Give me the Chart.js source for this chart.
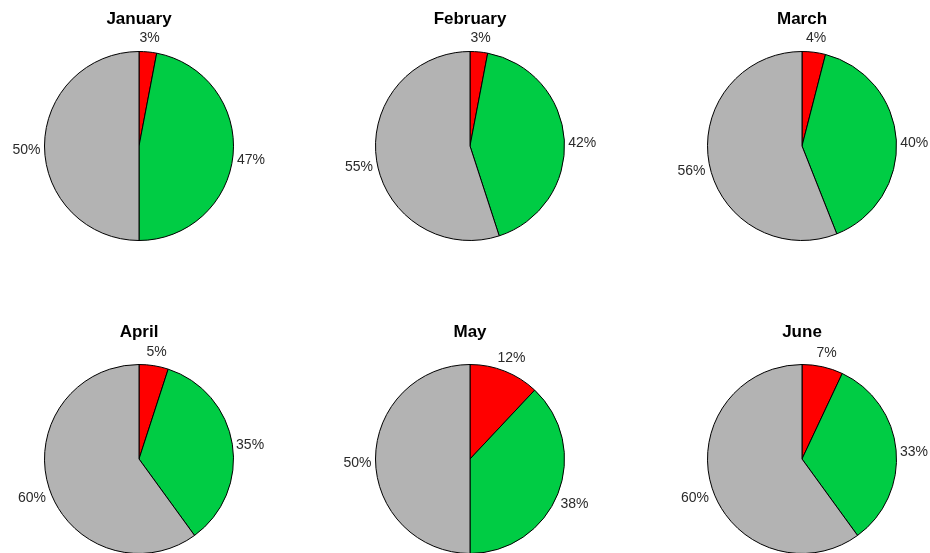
<!DOCTYPE html>
<html>
<head>
<meta charset="utf-8">
<script src="https://cdn.jsdelivr.net/npm/chart.js@4/dist/chart.umd.min.js"></script>
<style>
html,body{margin:0;padding:0;background:#fff;overflow:hidden;width:930px;height:553px;}
.cell{position:absolute;}
</style>
</head>
<body>
<script>
const months = ['January','February','March','April','May','June'];
const sliceNames = ['Part 1','Part 2','Part 3'];
const redValues   = [3, 3, 4, 5, 12, 7];
const greenValues = [47, 42, 40, 35, 38, 33];
const grayValues  = [50, 55, 56, 60, 50, 60];
const sliceColors = ['#ff0000', '#00cc44', '#b3b3b3'];

const centersX = [138.5, 470, 802];
const centersY = [146, 459];
const W = 310, H = 292, R = 95;

const labelPlugin = {
  id: 'pieText',
  afterDatasetsDraw(chart, args, opts) {
    const ctx = chart.ctx;
    const meta = chart.getDatasetMeta(0);
    const data = chart.data.datasets[0].data;
    const total = data.reduce((a, b) => a + b, 0);
    ctx.save();
    ctx.fillStyle = '#2a2a2a';
    ctx.font = '14px "Liberation Sans", Arial, sans-serif';
    ctx.textAlign = 'center';
    ctx.textBaseline = 'middle';
    meta.data.forEach((arc, i) => {
      const mid = (arc.startAngle + arc.endAngle) / 2;
      const rr = arc.outerRadius * 1.19;
      const x = arc.x + Math.cos(mid) * rr;
      const y = arc.y + Math.sin(mid) * rr + 4;
      ctx.fillText(Math.round(data[i] / total * 100) + '%', x, y);
    });
    // title
    const a0 = meta.data[0];
    ctx.fillStyle = '#000';
    ctx.font = 'bold 17px "Liberation Sans", Arial, sans-serif';
    ctx.fillText(opts.title, a0.x, a0.y - 127);
    ctx.restore();
  }
};

months.forEach((m, k) => {
  const col = k % 3, row = Math.floor(k / 3);
  const cx = centersX[col], cy = centersY[row];
  const div = document.createElement('div');
  div.className = 'cell';
  div.style.left = (cx - W / 2) + 'px';
  div.style.top = (cy - H / 2) + 'px';
  div.style.width = W + 'px';
  div.style.height = H + 'px';
  const cv = document.createElement('canvas');
  cv.width = W; cv.height = H;
  cv.style.width = W + 'px'; cv.style.height = H + 'px';
  div.appendChild(cv);
  document.body.appendChild(div);
  const padX = (W - 2 * R) / 2, padY = (H - 2 * R) / 2;
  new Chart(cv, {
    type: 'pie',
    data: {
      labels: sliceNames,
      datasets: [{
        data: [redValues[k], greenValues[k], grayValues[k]],
        backgroundColor: sliceColors,
        borderColor: '#000',
        borderWidth: 1,
        borderAlign: 'center'
      }]
    },
    options: {
      responsive: false,
      animation: false,
      devicePixelRatio: 1,
      layout: { padding: { left: padX, right: padX, top: padY - 1, bottom: padY - 1 } },
      plugins: {
        legend: { display: false },
        tooltip: { enabled: false },
        title: { display: false },
        pieText: { title: m }
      }
    },
    plugins: [labelPlugin]
  });
});
</script>
</body>
</html>
